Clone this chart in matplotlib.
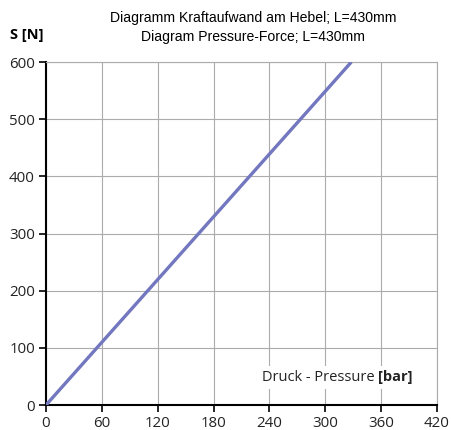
import matplotlib
matplotlib.use("Agg")
from matplotlib import pyplot as plt

pressure = [0, 328]     # bar
force = [0, 600]        # N
xticks = [0, 60, 120, 180, 240, 300, 360, 420]
yticks = [0, 100, 200, 300, 400, 500, 600]

plt.rcParams['font.family'] = ['Open Sans', 'DejaVu Sans']

fig = plt.figure(figsize=(4.52, 4.30), dpi=100)
ax = fig.add_axes([0.1018, 0.0581, 0.8650, 0.7977])

ax.plot(pressure, force, color='#7277bf', lw=2.4, solid_capstyle='butt', zorder=3)

ax.set_xlim(0, 420)
ax.set_ylim(0, 600)
ax.set_xticks(xticks)
ax.set_yticks(yticks)
ax.grid(True, color='#ababab', lw=0.8)
ax.tick_params(labelsize=10.8, length=5, width=1.2, color='black', labelcolor='#222222', pad=3)

for s in ['top', 'right']:
	ax.spines[s].set_color('#ababab')
	ax.spines[s].set_linewidth(0.8)
for s in ['left', 'bottom']:
	ax.spines[s].set_color('black')
	ax.spines[s].set_linewidth(1.5)

# axis label inside the plot, plain part + bold unit
box = dict(facecolor='white', edgecolor='none', pad=3)
t1 = ax.text(0.552, 0.07, "Druck - Pressure ", transform=ax.transAxes,
	ha='left', va='baseline', fontsize=10.5, color='#222222', bbox=box, zorder=4)
fig.canvas.draw()
ext = t1.get_window_extent()
x2 = ax.transAxes.inverted().transform((ext.x1, ext.y0))[0]
ax.text(x2, 0.07, "[bar]", transform=ax.transAxes, ha='left', va='baseline',
	fontsize=10.5, fontweight='bold', color='#222222', bbox=box, zorder=4)

fig.text(0.56, 0.958, "Diagramm Kraftaufwand am Hebel; L=430mm",
	ha='center', va='center', fontsize=10.1, family='Liberation Sans')
fig.text(0.56, 0.914, "Diagram Pressure-Force; L=430mm",
	ha='center', va='center', fontsize=10.1, family='Liberation Sans')
fig.text(0.06, 0.918, "S [N]", ha='center', va='center', fontsize=10.5, fontweight='bold')

fig.savefig("out.png", dpi=100)
